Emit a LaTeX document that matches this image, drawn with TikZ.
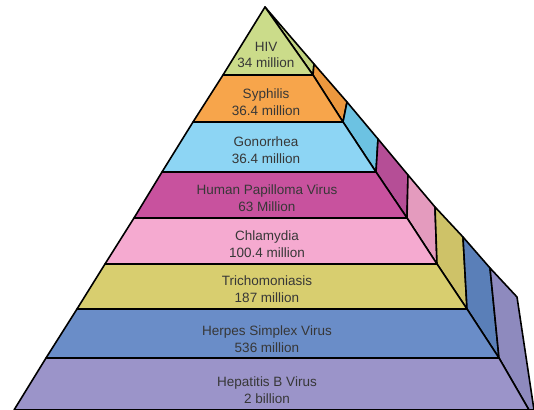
\documentclass[tikz,border=0pt]{standalone}
\usepackage{fontspec}
\setmainfont{Liberation Sans}
\definecolor{hivfront}{RGB}{203,220,138}
\definecolor{hivside}{RGB}{192,210,128}
\definecolor{syphfront}{RGB}{247,165,75}
\definecolor{syphside}{RGB}{236,152,62}
\definecolor{gonofront}{RGB}{141,213,244}
\definecolor{gonoside}{RGB}{108,194,226}
\definecolor{hpvfront}{RGB}{200,82,158}
\definecolor{hpvside}{RGB}{181,78,150}
\definecolor{chlafront}{RGB}{245,170,208}
\definecolor{chlaside}{RGB}{228,155,190}
\definecolor{trichfront}{RGB}{216,206,111}
\definecolor{trichside}{RGB}{206,194,104}
\definecolor{herpfront}{RGB}{106,141,200}
\definecolor{herpside}{RGB}{90,127,184}
\definecolor{hepfront}{RGB}{155,148,201}
\definecolor{hepside}{RGB}{142,138,190}
\definecolor{textgrey}{RGB}{55,55,55}
\begin{document}
\begin{tikzpicture}[x=1pt,y=-1pt]
	\tikzset{slab/.style={draw=black,line width=1.6pt,line join=round},
		tag/.style={align=center,text=textgrey,inner sep=0pt,font=\fontsize{13.5}{16.5}\selectfont}}
	\useasboundingbox (0,0) rectangle (534,409);
	\coordinate (apex) at (265,7);
	\coordinate (l1) at (223,75);
	\coordinate (l2) at (193,122);
	\coordinate (l3) at (162,172);
	\coordinate (l4) at (134,218);
	\coordinate (l5) at (105,264);
	\coordinate (l6) at (77,309);
	\coordinate (l7) at (46,358);
	\coordinate (l8) at (14,410);
	\coordinate (r1) at (313,75);
	\coordinate (r2) at (343,122);
	\coordinate (r3) at (376,172);
	\coordinate (r4) at (407,218);
	\coordinate (r5) at (437,264);
	\coordinate (r6) at (467,309);
	\coordinate (r7) at (499,358);
	\coordinate (r8) at (529,410);
	\coordinate (s1) at (314,64);
	\coordinate (s2) at (347,102);
	\coordinate (s3) at (378,139);
	\coordinate (s4) at (408,175);
	\coordinate (s5) at (435,207);
	\coordinate (s6) at (463,237);
	\coordinate (s7) at (490,268);
	\coordinate (s8) at (517,297);
	\coordinate (s9) at (534,410);
	\filldraw[slab,fill=hivside] (apex) -- (s1) -- (r1) -- cycle;
	\filldraw[slab,fill=syphside] (s1) -- (s2) -- (r2) -- (r1) -- cycle;
	\filldraw[slab,fill=gonoside] (s2) -- (s3) -- (r3) -- (r2) -- cycle;
	\filldraw[slab,fill=hpvside] (s3) -- (s4) -- (r4) -- (r3) -- cycle;
	\filldraw[slab,fill=chlaside] (s4) -- (s5) -- (r5) -- (r4) -- cycle;
	\filldraw[slab,fill=trichside] (s5) -- (s6) -- (r6) -- (r5) -- cycle;
	\filldraw[slab,fill=herpside] (s6) -- (s7) -- (r7) -- (r6) -- cycle;
	\filldraw[slab,fill=hepside] (s7) -- (s8) -- (s9) -- (r8) -- (r7) -- cycle;
	\filldraw[slab,fill=hivfront] (apex) -- (r1) -- (l1) -- cycle;
	\filldraw[slab,fill=syphfront] (l1) -- (r1) -- (r2) -- (l2) -- cycle;
	\filldraw[slab,fill=gonofront] (l2) -- (r2) -- (r3) -- (l3) -- cycle;
	\filldraw[slab,fill=hpvfront] (l3) -- (r3) -- (r4) -- (l4) -- cycle;
	\filldraw[slab,fill=chlafront] (l4) -- (r4) -- (r5) -- (l5) -- cycle;
	\filldraw[slab,fill=trichfront] (l5) -- (r5) -- (r6) -- (l6) -- cycle;
	\filldraw[slab,fill=herpfront] (l6) -- (r6) -- (r7) -- (l7) -- cycle;
	\filldraw[slab,fill=hepfront] (l7) -- (r7) -- (r8) -- (l8) -- cycle;
	\node[tag] (hiv) at (266,55) {HIV\\34 million};
	\node[tag] (syphilis) at (266,102) {Syphilis\\36.4 million};
	\node[tag] (gonorrhea) at (266,150) {Gonorrhea\\36.4 million};
	\node[tag] (hpv) at (267,198) {Human Papilloma Virus\\63 Million};
	\node[tag] (chlamydia) at (267,244) {Chlamydia\\100.4 million};
	\node[tag] (trich) at (267,289) {Trichomoniasis\\187 million};
	\node[tag] (herpes) at (267,339) {Herpes Simplex Virus\\536 million};
	\node[tag] (hepb) at (267,390) {Hepatitis B Virus\\2 billion};
\end{tikzpicture}
\end{document}
